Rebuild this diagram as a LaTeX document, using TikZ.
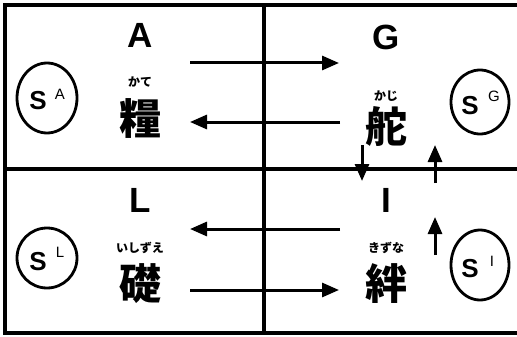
\documentclass[tikz,border=0pt]{standalone}
\usepackage{fontspec}
\setmainfont{Liberation Sans}
\newfontfamily\jp{Noto Sans CJK JP}
\usetikzlibrary{arrows.meta}
\begin{document}
\begin{tikzpicture}[x=1pt,y=-1pt,
  frame/.style={line width=3.5pt},
  arr/.style={line width=3pt,-{Triangle[length=17pt,width=14pt]}},
  big/.style={font=\bfseries\fontsize{35}{35}\selectfont},
  kanji/.style={font=\jp\bfseries\fontsize{42}{42}\selectfont},
  kana/.style={font=\jp\bfseries\fontsize{12}{12}\selectfont},
  sletter/.style={font=\bfseries\fontsize{26}{26}\selectfont},
  supl/.style={font=\fontsize{15}{15}\selectfont}]
\useasboundingbox (0,0) rectangle (517,337);
% frame
\draw[frame] (517,5) -- (5,5) -- (5,333) -- (517,333);
\draw[frame] (5,169) -- (517,169);
\draw[frame] (264,5) -- (264,333);
% labels
\node[big] (A) at (140,35) {A};
\node[big] (G) at (386,37) {G};
\node[big] (L) at (140,200) {L};
\node[big] (I) at (386,200) {I};
\node[kana] (ka1) at (140,82) {かて};
\node[kanji] (k1) at (140,118) {糧};
\node[kana] (ka2) at (386,96) {かじ};
\node[kanji] (k2) at (386,127) {舵};
\node[kana] (ka3) at (140,248) {いしずえ};
\node[kanji] (k3) at (140,284) {礎};
\node[kana] (ka4) at (386,248) {きずな};
\node[kanji] (k4) at (386,284) {絆};
% circles
\draw[line width=2.8pt] (47,98) ellipse [x radius=30, y radius=35];
\node[sletter] (sa) at (38,101) {S};
\node[supl] (sa2) at (60,94) {A};
\draw[line width=2.8pt] (480,102) ellipse [x radius=29, y radius=32];
\node[sletter] (sg) at (470,106) {S};
\node[supl] (sg2) at (494,96) {G};
\draw[line width=2.8pt] (47,258) ellipse [x radius=30, y radius=30];
\node[sletter] (sl) at (38,262) {S};
\node[supl] (sl2) at (60,252) {L};
\draw[line width=2.8pt] (480,265) ellipse [x radius=29, y radius=35];
\node[sletter] (si) at (470,269) {S};
\node[supl] (si2) at (492,261) {I};
% arrows
\coordinate (a1s) at (190,63); \coordinate (a1e) at (339,63);
\coordinate (a2s) at (340,122); \coordinate (a2e) at (190,122);
\coordinate (a3s) at (340,229); \coordinate (a3e) at (190,229);
\coordinate (a4s) at (190,290); \coordinate (a4e) at (339,290);
\draw[arr] (a1s) -- (a1e);
\draw[arr] (a2s) -- (a2e);
\draw[arr] (a3s) -- (a3e);
\draw[arr] (a4s) -- (a4e);
\coordinate (d1s) at (362,145); \coordinate (d1e) at (362,181);
\coordinate (u1s) at (435,183); \coordinate (u1e) at (435,145);
\coordinate (u2s) at (435,255); \coordinate (u2e) at (435,217);
\draw[arr] (d1s) -- (d1e);
\draw[arr] (u1s) -- (u1e);
\draw[arr] (u2s) -- (u2e);
\end{tikzpicture}
\end{document}
